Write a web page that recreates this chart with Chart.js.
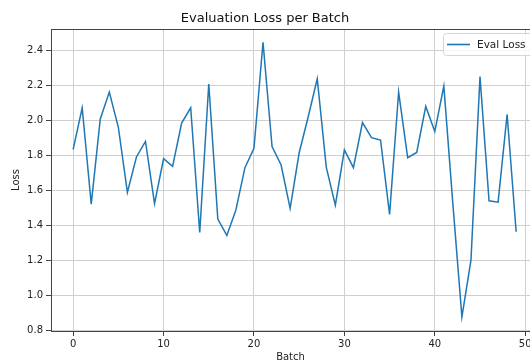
<!DOCTYPE html>
<html>
<head>
<meta charset="utf-8">
<script src="https://cdn.jsdelivr.net/npm/chart.js@4"></script>
<style>
  html, body { margin: 0; padding: 0; background: #fff; }
  #wrap { width: 530px; height: 363px; }
</style>
</head>
<body>
<div id="wrap"><canvas id="chart-loss"></canvas></div>
<script>
var batches = [];
for (var i = 0; i < 50; i++) batches.push(i);
var evalLoss = [
    1.832, 2.070, 1.520, 2.006, 2.160, 1.958, 1.587, 1.789, 1.878, 1.522,
    1.779, 1.735, 1.983, 2.070, 1.358, 2.206, 1.434, 1.341, 1.486, 1.728,
    1.838, 2.444, 1.848, 1.743, 1.495, 1.813, 2.019, 2.236, 1.730, 1.514,
    1.829, 1.728, 1.985, 1.899, 1.886, 1.461, 2.160, 1.785, 1.815, 2.078,
    1.935, 2.194, 1.520, 0.876, 1.200, 2.248, 1.539, 1.531, 2.032, 1.362
];
var xTicks = [0, 10, 20, 30, 40, 50];
var yTicks = [0.8, 1.0, 1.2, 1.4, 1.6, 1.8, 2.0, 2.2, 2.4];

var FONT = 'DejaVu Sans';
var BLUE = '#1f77b4';

// top spine + legend box (upper right, runs off the edge like the original)
var framePlugin = {
    id: 'frame',
    afterDraw: function (chart) {
        var ctx = chart.ctx, a = chart.chartArea;
        ctx.save();
        ctx.strokeStyle = '#444';
        ctx.lineWidth = 1;
        ctx.beginPath();
        ctx.moveTo(a.left, a.top + 0.5);
        ctx.lineTo(a.right, a.top + 0.5);
        ctx.stroke();

        var lx = 443.5, ly = 33.5, lw = 110, lh = 22;
        ctx.fillStyle = 'rgba(255,255,255,0.8)';
        ctx.strokeStyle = '#d6d6d6';
        ctx.beginPath();
        ctx.roundRect(lx, ly, lw, lh, 3);
        ctx.fill();
        ctx.stroke();
        ctx.strokeStyle = BLUE;
        ctx.lineWidth = 1.6;
        ctx.beginPath();
        ctx.moveTo(447, 44.5);
        ctx.lineTo(470, 44.5);
        ctx.stroke();
        ctx.fillStyle = '#222';
        ctx.font = '10.5px "' + FONT + '"';
        ctx.textBaseline = 'middle';
        ctx.fillText('Eval Loss', 477, 45);
        ctx.restore();
    }
};

new Chart(document.getElementById('chart-loss'), {
    type: 'line',
    data: {
        labels: batches,
        datasets: [{ label: 'Eval Loss', data: batches.map(function (b, i) { return { x: b, y: evalLoss[i] }; }),
            borderColor: BLUE, borderWidth: 1.5, pointRadius: 0, tension: 0, fill: false }]
    },
    options: {
        responsive: true, maintainAspectRatio: false, animation: false,
        layout: { padding: 0 },
        plugins: {
            legend: { display: false },
            tooltip: { enabled: false },
            title: { display: true, text: 'Evaluation Loss per Batch', color: '#111',
                font: { family: FONT, size: 13, weight: 'normal' }, padding: { top: 11, bottom: 2.4 } }
        },
        scales: {
            x: {
                type: 'linear', min: -2.45, max: 50.53,
                afterBuildTicks: function (s) { s.ticks = xTicks.map(function (v) { return { value: v }; }); },
                afterFit: function (s) { s.height = 32; s.paddingLeft = 0; s.paddingRight = 0; },
                grid: { color: '#cfcfcf', lineWidth: 1, tickColor: '#444', tickLength: 5 },
                border: { color: '#444', width: 1 },
                ticks: { color: '#222', padding: 2, maxRotation: 0, font: { family: FONT, size: 10 } },
                title: { display: true, text: 'Batch', color: '#222', padding: { top: 0, bottom: 0 }, font: { family: FONT, size: 10 } }
            },
            y: {
                min: 0.795, max: 2.52,
                afterBuildTicks: function (s) { s.ticks = yTicks.map(function (v) { return { value: v }; }); },
                afterFit: function (s) { s.width = 51; },
                grid: { color: '#cfcfcf', lineWidth: 1, tickColor: '#444', tickLength: 5 },
                border: { color: '#444', width: 1 },
                ticks: { color: '#222', padding: 3, font: { family: FONT, size: 10 },
                    callback: function (v) { return Number(v).toFixed(1); } },
                title: { display: true, text: 'Loss', color: '#222', padding: { top: 10, bottom: 0 }, font: { family: FONT, size: 10 } }
            }
        }
    },
    plugins: [framePlugin]
});
</script>
</body>
</html>
